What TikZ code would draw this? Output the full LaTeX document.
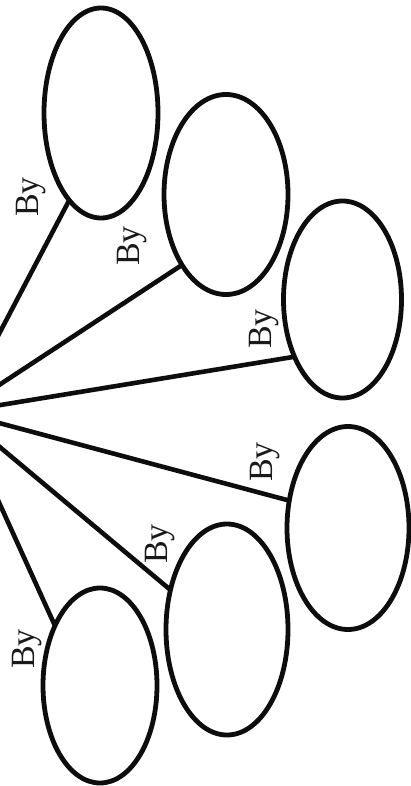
\documentclass[tikz,border=0pt]{standalone}
\usepackage{fontspec}
\setmainfont{Liberation Serif}
\usetikzlibrary{shapes.geometric}
\begin{document}
\begin{tikzpicture}[x=1pt,y=1pt,
  ell/.style={ellipse, draw=black!95, line width=4.8pt, inner sep=0pt, outer sep=0pt},
  spoke/.style={draw=black!95, line width=4.6pt},
  lab/.style={rotate=90, inner sep=0pt, font=\fontsize{34}{38}\selectfont, text=black!90}]
\clip (0,0) rectangle (411,-786);
\useasboundingbox (0,0) rectangle (411,-786);
\coordinate (hub) at (-42,-412);
\node[ell, minimum width=114pt, minimum height=210pt] (e1) at (101,-113) {};
\node[ell, minimum width=124pt, minimum height=200pt] (e2) at (226,-194.5) {};
\node[ell, minimum width=118pt, minimum height=197pt] (e3) at (342.5,-299.5) {};
\node[ell, minimum width=122pt, minimum height=203pt] (e4) at (348,-528) {};
\node[ell, minimum width=122pt, minimum height=211pt] (e5) at (227,-629.5) {};
\node[ell, minimum width=114pt, minimum height=195pt] (e6) at (100,-685.5) {};
\draw[spoke] (hub) -- (e1.250);
\draw[spoke] (hub) -- (e2.238);
\draw[spoke] (hub) -- (e3.230);
\draw[spoke] (hub) -- (e4.155);
\draw[spoke] (hub) -- (e5.145);
\draw[spoke] (hub) -- (e6.127);
\node[lab] (l1) at (31,-197) {By};
\node[lab] (l2) at (132,-246) {By};
\node[lab] (l3) at (264,-329) {By};
\node[lab] (l4) at (265,-462) {By};
\node[lab] (l5) at (160,-544) {By};
\node[lab] (l6) at (27,-649) {By};
\end{tikzpicture}
\end{document}
